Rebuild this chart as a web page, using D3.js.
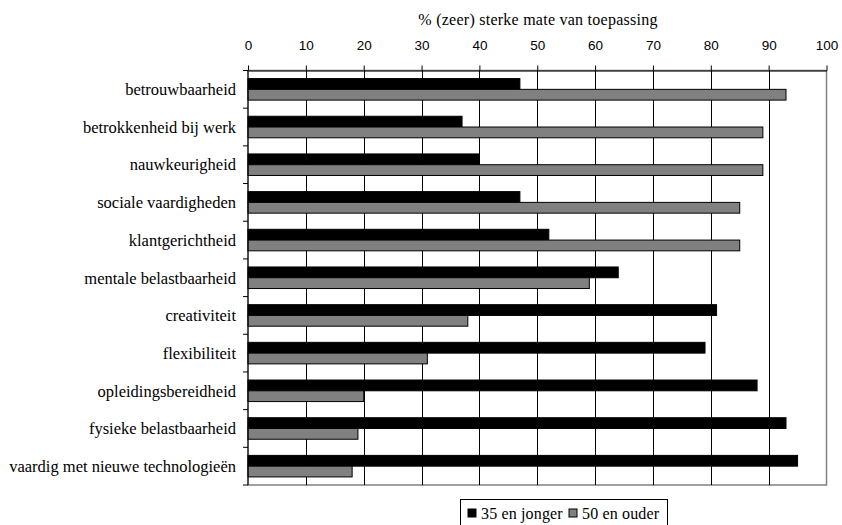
<!DOCTYPE html>
<html>
  <head>
    <meta charset="utf-8" />
    <script src="https://cdn.jsdelivr.net/npm/d3@7"></script>
    <style>
      body { margin: 0; background: #fff; }
    </style>
  </head>
  <body>
    <svg width="842" height="525" id="mainsvg"></svg>
    <script>
      const categories = [
        "betrouwbaarheid",
        "betrokkenheid bij werk",
        "nauwkeurigheid",
        "sociale vaardigheden",
        "klantgerichtheid",
        "mentale belastbaarheid",
        "creativiteit",
        "flexibiliteit",
        "opleidingsbereidheid",
        "fysieke belastbaarheid",
        "vaardig met nieuwe technologieën",
      ];
      const seriesNames = ["35 en jonger", "50 en ouder"];
      const young = [47, 37, 40, 47, 52, 64, 81, 79, 88, 93, 95];
      const old = [93, 89, 89, 85, 85, 59, 38, 31, 20, 19, 18];
      const xTicks = [0, 10, 20, 30, 40, 50, 60, 70, 80, 90, 100];
      const axisTitle = "% (zeer) sterke mate van toepassing";

      const serif = '"Liberation Serif", "Times New Roman", serif';
      const sans = '"Liberation Sans", Arial, sans-serif';

      const svg = d3.select("#mainsvg");
      const margin = { left: 248, top: 70.5, right: 15.5, bottom: 40 };
      const width = +svg.attr("width");
      const x0 = margin.left, x1 = width - margin.right;
      const y0 = margin.top, y1 = 485;

      const x = d3.scaleLinear().domain([0, 100]).range([x0, x1]);
      const y = d3.scaleBand().domain(categories).range([y0, y1]);
      const sub = d3.scaleBand().domain(seriesNames).range([0, y.bandwidth()]).paddingOuter(0.75).paddingInner(0);
      const color = d3.scaleOrdinal().domain(seriesNames).range(["#000000", "#808080"]);

      // rand van het plotgebied (grijs)
      svg.append("rect")
        .attr("x", x0).attr("y", y0)
        .attr("width", x1 - x0).attr("height", y1 - y0)
        .attr("fill", "none").attr("stroke", "#808080").attr("stroke-width", 1.5);

      // verticale rasterlijnen
      svg.append("g")
        .selectAll("line")
        .data(xTicks.slice(1, -1))
        .join("line")
        .attr("x1", (d) => Math.round(x(d)) + 0.5).attr("x2", (d) => Math.round(x(d)) + 0.5)
        .attr("y1", y0).attr("y2", y1)
        .attr("stroke", "#000").attr("stroke-width", 1);

      // balken
      const data = categories.map((c, i) => ({ cat: c, vals: [
        { name: seriesNames[0], v: young[i] },
        { name: seriesNames[1], v: old[i] },
      ] }));

      svg.append("g")
        .selectAll("g")
        .data(data)
        .join("g")
        .attr("transform", (d) => `translate(0, ${y(d.cat)})`)
        .selectAll("rect")
        .data((d) => d.vals)
        .join("rect")
        .attr("x", x(0))
        .attr("y", (d) => sub(d.name))
        .attr("width", (d) => x(d.v) - x(0))
        .attr("height", sub.bandwidth())
        .attr("fill", (d) => color(d.name))
        .attr("stroke", "#000").attr("stroke-width", 1);

      // bovenas
      const xAxis = d3.axisTop(x).tickValues(xTicks).tickSize(5).tickSizeOuter(0).tickPadding(16);
      const gx = svg.append("g").attr("transform", `translate(0, ${y0})`).call(xAxis);
      gx.select(".domain").attr("stroke", "#000");
      gx.selectAll("text")
        .style("font-family", sans).style("font-size", "13.5px").attr("fill", "#000");

      // linker as met streepjes tussen categorieën
      svg.append("line")
        .attr("x1", x0).attr("x2", x0).attr("y1", y0).attr("y2", y1)
        .attr("stroke", "#000");
      svg.append("g")
        .selectAll("line")
        .data(d3.range(categories.length + 1))
        .join("line")
        .attr("x1", x0 - 5).attr("x2", x0)
        .attr("y1", (i) => y0 + i * y.step()).attr("y2", (i) => y0 + i * y.step())
        .attr("stroke", "#000");

      svg.append("g")
        .selectAll("text")
        .data(categories)
        .join("text")
        .attr("x", x0 - 12)
        .attr("y", (d) => y(d) + y.bandwidth() / 2)
        .attr("dy", "0.35em")
        .attr("text-anchor", "end")
        .style("font-family", serif).style("font-size", "16.5px")
        .text((d) => d);

      // astitel
      svg.append("text")
        .attr("x", 538).attr("y", 25)
        .attr("text-anchor", "middle")
        .style("font-family", serif).style("font-size", "16px").style("letter-spacing", "0.25px")
        .text(axisTitle);

      // legenda
      const leg = svg.append("g").attr("transform", "translate(460.5, 499.5)");
      leg.append("rect").attr("width", 207).attr("height", 30)
        .attr("fill", "#fff").attr("stroke", "#000");
      const items = leg.selectAll("g").data(seriesNames).join("g")
        .attr("transform", (d, i) => `translate(${7 + i * 101}, 0)`);
      items.append("rect")
        .attr("x", 0.5).attr("y", 9.5).attr("width", 8).attr("height", 8)
        .attr("fill", (d) => color(d)).attr("stroke", "#000");
      items.append("text")
        .attr("x", 13.5).attr("y", 19)
        .style("font-family", serif).style("font-size", "16px").style("letter-spacing", "0.15px")
        .text((d) => d);
    </script>
  </body>
</html>
